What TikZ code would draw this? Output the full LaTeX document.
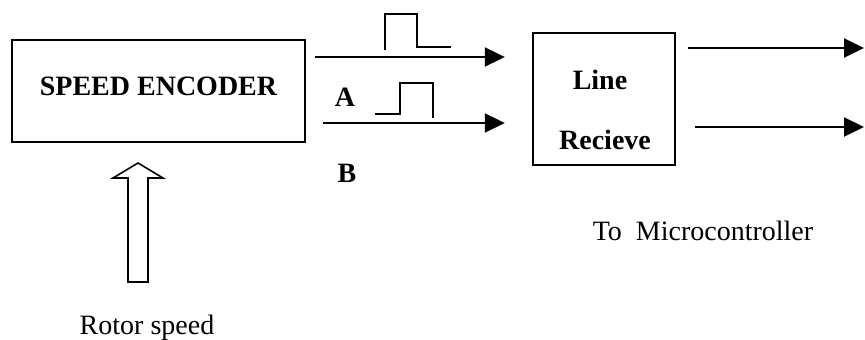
\documentclass[tikz,border=0pt]{standalone}
\usepackage{fontspec}
\setmainfont{Liberation Serif}
\usepackage{tikz}
\usetikzlibrary{arrows.meta,calc}

\begin{document}
\begin{tikzpicture}[x=0.5pt,y=-0.5pt,
  blk/.style={draw,line width=1.2pt,inner sep=0pt},
  txt/.style={font=\fontsize{14}{16}\selectfont\bfseries,inner sep=0pt},
  lbl/.style={font=\fontsize{14}{16}\selectfont,inner sep=0pt},
  arr/.style={-{Triangle[length=10pt,width=9.5pt]},line width=1pt},
  wave/.style={line width=0.8pt}
]
\useasboundingbox (0,0) rectangle (865,340);

\node[blk,txt,minimum width=146.5pt,minimum height=51pt,text depth=5pt] (enc) at (158.5,91) {SPEED ENCODER};
\node[blk,minimum width=71pt,minimum height=66pt] (recv) at (604,99) {};
\node[txt] (line) at (600,80) {Line};
\node[txt] (recieve) at (605,140) {Recieve};

\node[txt] (a) at (345,97) {A};
\node[txt] (b) at (347,173) {B};
\node[lbl] (rotor) at (147,328) {Rotor speed};
\node[lbl] (micro) at (703,231) {To~ Microcontroller};

\coordinate (o1) at (864,48);
\coordinate (o2) at (864,127);

\draw[arr] ($(enc.east)+(9,-34)$) -- ($(recv.west)+(-27,-42)$);
\draw[arr] ($(enc.east)+(17,32)$) -- ($(recv.west)+(-27,24)$);
\draw[arr] ($(recv.east)+(12,-51)$) -- (o1);
\draw[arr] ($(recv.east)+(19,28)$) -- (o2);

\draw[wave] (385,50) -- (385,14) -- (417,14) -- (417,47) -- (451,47);
\draw[wave] (375,114) -- (400,114) -- (400,83) -- (433,83) -- (433,118);

\draw[line width=0.8pt] (128,282) -- (128,178) -- (113,178) -- (138,163)
  -- (163,178) -- (148,178) -- (148,282) -- cycle;
\end{tikzpicture}
\end{document}
